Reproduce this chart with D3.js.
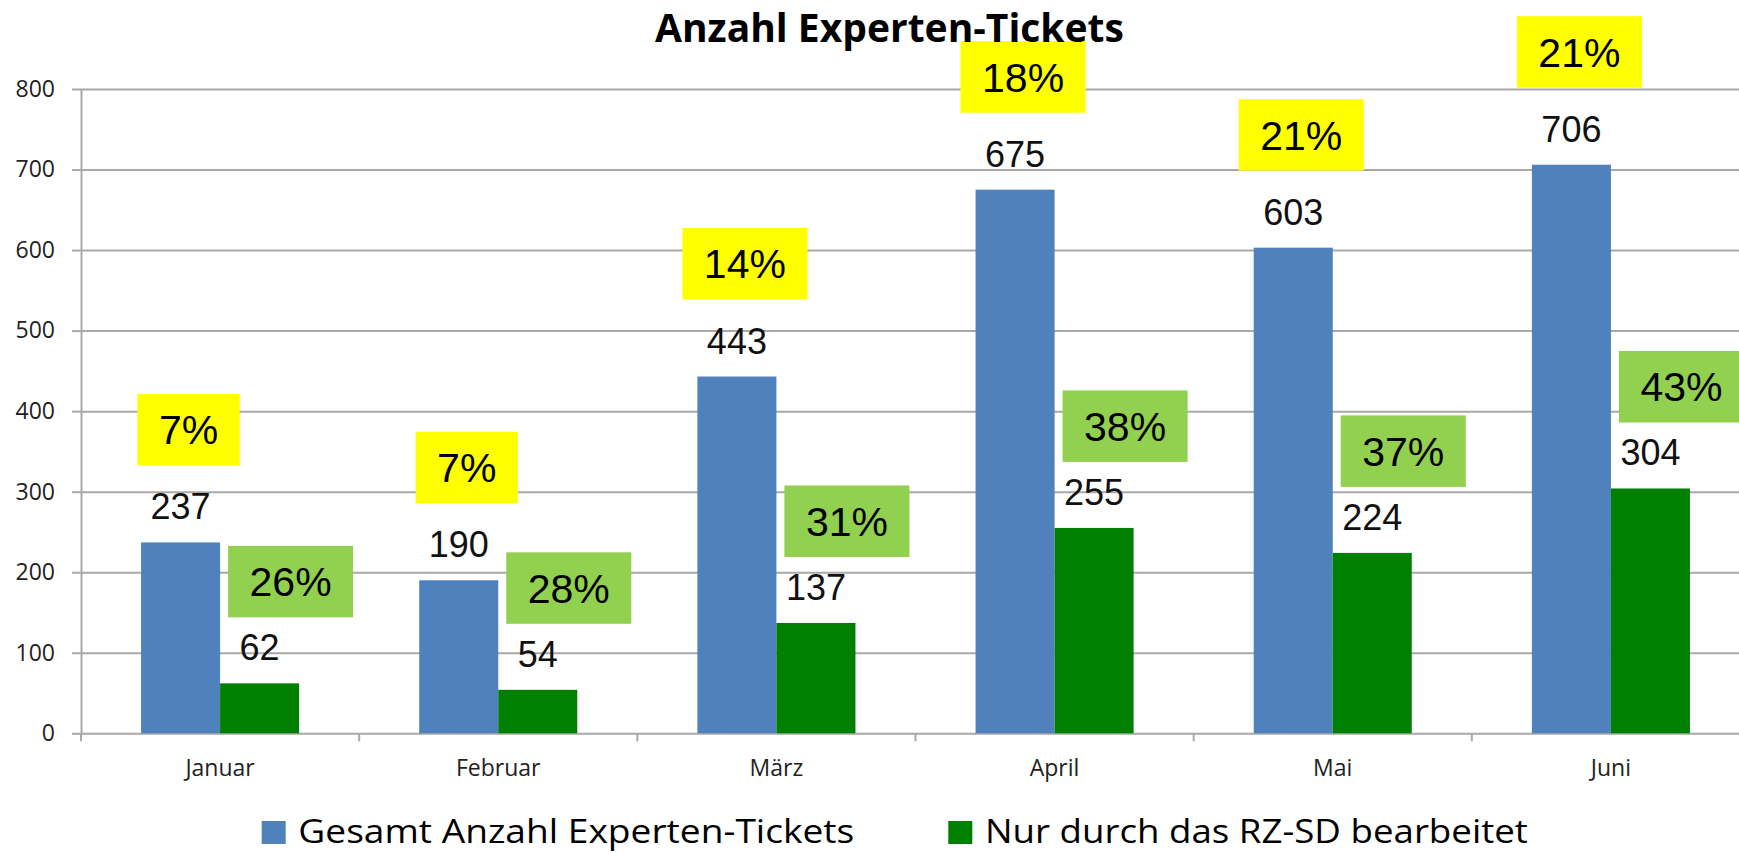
<!DOCTYPE html>
<html>
<head>
<meta charset="utf-8">
<script src="https://cdn.jsdelivr.net/npm/d3@7"></script>
<style>
  body { margin: 0; background: #fff; }
  svg { display: block; }
</style>
</head>
<body>
<svg id="chart"></svg>
<script>
// data
const months = ['Januar', 'Februar', 'März', 'April', 'Mai', 'Juni'];
const totalTickets = [237, 190, 443, 675, 603, 706];
const rzTickets = [62, 54, 137, 255, 224, 304];
const shareLabels = ['7%', '7%', '14%', '18%', '21%', '21%'];
const yTicks = [0, 100, 200, 300, 400, 500, 600, 700, 800];
const seriesKeys = ['total', 'rz'];
const seriesNames = ['Gesamt Anzahl Experten-Tickets', 'Nur durch das RZ-SD bearbeitet'];

const colors = { total: '#4F81BD', rz: '#008000' };
const boxColors = { total: '#FFFF00', rz: '#92D050' };

const width = 1739;
const height = 853;
const plot = { left: 81, right: 1750, top: 89, bottom: 733.3 };

const rows = months.map((m, i) => ({
    month: m,
    total: totalTickets[i],
    rz: rzTickets[i],
    share: shareLabels[i]
}));

const svg = d3.select('#chart')
    .attr('width', width)
    .attr('height', height);

// Scales
const x0 = d3.scaleBand().domain(months).range([plot.left, plot.right]);
const x1 = d3.scaleBand().domain(seriesKeys).range([0, x0.bandwidth()]).paddingOuter(0.76);
const y = d3.scaleLinear().domain([0, 800]).range([plot.bottom, plot.top]);

// Gridlines
svg.append('g')
    .attr('transform', `translate(${plot.left},0)`)
    .call(d3.axisLeft(y).tickValues(yTicks).tickSize(-(plot.right - plot.left)).tickFormat(''))
    .call((g) => g.select('.domain').remove())
    .selectAll('line')
    .attr('stroke', '#a9a9a9')
    .attr('stroke-width', 2);

// Y axis
const gy = svg.append('g')
    .attr('transform', `translate(${plot.left},0)`)
    .call(d3.axisLeft(y).tickValues(yTicks).tickSize(9).tickSizeOuter(0).tickPadding(17));
gy.select('.domain').attr('stroke', '#a9a9a9').attr('stroke-width', 2);
gy.selectAll('.tick line').attr('stroke', '#a9a9a9').attr('stroke-width', 2);
gy.selectAll('.tick text')
    .attr('fill', '#222')
    .style('font-family', '"Open Sans", sans-serif')
    .style('font-size', '23px');

// X axis: category boundary ticks and labels
const boundaries = months.map((m) => x0(m)).concat([plot.right]);
svg.append('g').selectAll('line')
    .data(boundaries)
    .join('line')
    .attr('x1', (d) => d).attr('x2', (d) => d)
    .attr('y1', plot.bottom).attr('y2', plot.bottom + 8)
    .attr('stroke', '#a9a9a9')
    .attr('stroke-width', 2);

svg.append('g').selectAll('text')
    .data(months)
    .join('text')
    .attr('x', (d) => x0(d) + x0.bandwidth() / 2)
    .attr('y', plot.bottom + 43)
    .attr('text-anchor', 'middle')
    .attr('fill', '#222')
    .style('font-family', '"Open Sans", sans-serif')
    .style('font-size', '23px')
    .text((d) => d);

// Bars
const groups = svg.append('g').selectAll('g')
    .data(rows)
    .join('g')
    .attr('transform', (d) => `translate(${x0(d.month)},0)`);

groups.selectAll('rect')
    .data((d) => seriesKeys.map((key) => ({ key, value: d[key] })))
    .join('rect')
    .attr('x', (d) => x1(d.key))
    .attr('width', x1.bandwidth())
    .attr('y', (d) => y(d.value))
    .attr('height', (d) => plot.bottom - y(d.value))
    .attr('fill', (d) => colors[d.key]);

// Value labels above the bars
groups.selectAll('text.value')
    .data((d) => seriesKeys.map((key) => ({ key, value: d[key] })))
    .join('text')
    .attr('class', 'value')
    .attr('x', (d) => x1(d.key) + x1.bandwidth() / 2)
    .attr('y', (d) => y(d.value) - 23)
    .attr('text-anchor', 'middle')
    .attr('fill', '#111')
    .style('font-family', '"Liberation Sans", Arial, sans-serif')
    .style('font-size', '36px')
    .text((d) => d.value);

// Percentage boxes
const pct = d3.format('.0%');
const boxOffset = { total: { dx: 8, gap: 77 }, rz: { dx: 31, gap: 66 } };
const boxH = 71.5;

groups.each(function (d) {
    const g = d3.select(this);
    const labels = { total: d.share, rz: pct(d.rz / d.total) };
    seriesKeys.forEach((key) => {
        const cx = x1(key) + x1.bandwidth() / 2 + boxOffset[key].dx;
        const bottom = y(d[key]) - boxOffset[key].gap;
        const box = g.append('g');
        const rect = box.append('rect');
        const t = box.append('text')
            .attr('x', cx)
            .attr('y', bottom - boxH / 2 + 14.7)
            .attr('text-anchor', 'middle')
            .attr('fill', '#000')
            .style('font-family', '"Liberation Sans", Arial, sans-serif')
            .style('font-size', '41px')
            .text(labels[key]);
        const w = t.node().getComputedTextLength() + 43;
        rect.attr('x', cx - w / 2)
            .attr('y', bottom - boxH)
            .attr('width', w)
            .attr('height', boxH)
            .attr('fill', boxColors[key]);
    });
});

// Title
svg.append('text')
    .attr('x', 889.5)
    .attr('y', 42)
    .attr('text-anchor', 'middle')
    .attr('fill', '#000')
    .style('font-family', '"Open Sans", sans-serif')
    .style('font-weight', 'bold')
    .style('font-size', '39px')
    .text('Anzahl Experten-Tickets');

// Legend
const legendX = [261.7, 948.3];
const legendTextW = [556, 543];
const legend = svg.append('g').selectAll('g')
    .data(seriesKeys)
    .join('g')
    .attr('transform', (d, i) => `translate(${legendX[i]},821)`);

legend.append('rect')
    .attr('width', 24)
    .attr('height', 23)
    .attr('fill', (d) => colors[d]);

legend.append('text')
    .attr('x', 36.6)
    .attr('y', 22)
    .attr('fill', '#000')
    .attr('textLength', (d, i) => legendTextW[i])
    .attr('lengthAdjust', 'spacingAndGlyphs')
    .style('font-family', '"Open Sans", sans-serif')
    .style('font-size', '32px')
    .text((d, i) => seriesNames[i]);
</script>
</body>
</html>
